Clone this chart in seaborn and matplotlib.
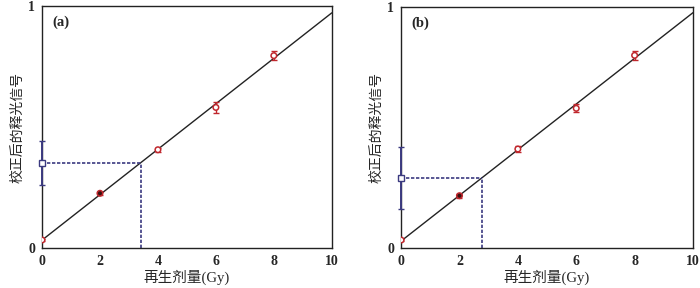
import matplotlib
matplotlib.use("Agg")
import matplotlib.pyplot as plt
import seaborn as sns
import numpy as np
import pandas as pd

# Regenerationsdosen und Signale
dose = [0, 2, 4, 6, 8]
signal_a = [0.033, 0.226, 0.406, 0.581, 0.795]
err_a = [0.006, 0.006, 0.008, 0.022, 0.02]
signal_b = [0.033, 0.217, 0.411, 0.58, 0.80]
err_b = [0.006, 0.008, 0.012, 0.016, 0.02]
dark_point = [False, True, False, False, False]

nat_a, nat_err_a, de_a = 0.351, 0.09, 3.4
nat_b, nat_err_b, de_b = 0.29, 0.13, 2.76

panel_labels = ["(a)", "(b)"]
x_ticks = [0, 2, 4, 6, 8, 10]
y_tick_labels = ["0", "", "1"]

RED = "#c0272d"
NAVY = "#3b3a80"
SERIF = ["Liberation Serif", "Noto Sans CJK SC"]

sns.set_style("white")
plt.rcParams["font.family"] = SERIF

fig = plt.figure(figsize=(7, 2.88), dpi=100)
ax_a = fig.add_axes([0.06, 0.139, 0.414, 0.84])
ax_b = fig.add_axes([0.573, 0.139, 0.417, 0.836])

panels = [
    (ax_a, signal_a, err_a, nat_a, nat_err_a, de_a, panel_labels[0]),
    (ax_b, signal_b, err_b, nat_b, nat_err_b, de_b, panel_labels[1]),
]

for ax, sig, err, nat, nat_err, de, label in panels:
    df = pd.DataFrame({"dose": dose, "signal": sig, "dark": dark_point})

    # Ausgleichsgerade
    slope, icpt = np.polyfit(dose, sig, 1)
    xs = np.array([0, 10])
    sns.lineplot(x=xs, y=icpt + slope * xs, ax=ax, color="#222222", lw=1.0)

    # Messpunkte mit Fehlerbalken
    ax.errorbar(dose, sig, yerr=err, fmt="none", ecolor=RED, elinewidth=1.0,
                capsize=2, zorder=3)
    sns.scatterplot(data=df, x="dose", y="signal", hue="dark",
                    palette={False: "white", True: "#3a1010"}, edgecolor=RED,
                    linewidth=1.1, s=16, legend=False, ax=ax, zorder=4)

    # natuerliches Signal, Projektion auf die Gerade
    ax.plot([0, de], [nat, nat], ls="--", color=NAVY, lw=1.2, dashes=(2, 1))
    ax.plot([de, de], [0, nat], ls="--", color=NAVY, lw=1.2, dashes=(2, 1))
    ax.errorbar([0], [nat], yerr=[nat_err], fmt="s", mfc="white", mec=NAVY,
                ms=4, ecolor=NAVY, elinewidth=1.4, capsize=2, zorder=5,
                clip_on=False)

    ax.set_xlim(0, 10)
    ax.set_ylim(0, 1)
    ax.set_xticks(x_ticks)
    ax.set_xticklabels([str(t) for t in x_ticks], fontweight="bold", fontsize=10)
    ax.set_yticks([0, 0.5, 1])
    ax.set_yticklabels(y_tick_labels, fontweight="bold", fontsize=10)
    ax.tick_params(direction="in", length=3, width=0.8, pad=5)
    for sp in ax.spines.values():
        sp.set_color("#222222")
        sp.set_linewidth(1.0)

    ax.set_xlabel("再生剂量(Gy)", fontsize=10.5, labelpad=1)
    ax.set_ylabel("校正后的释光信号", fontsize=10, labelpad=3)
    ax.text(0.035, 0.96, label, transform=ax.transAxes, fontsize=10.5,
            fontweight="bold", va="top", ha="left")

plt.savefig("out.png", dpi=100)
plt.close()
